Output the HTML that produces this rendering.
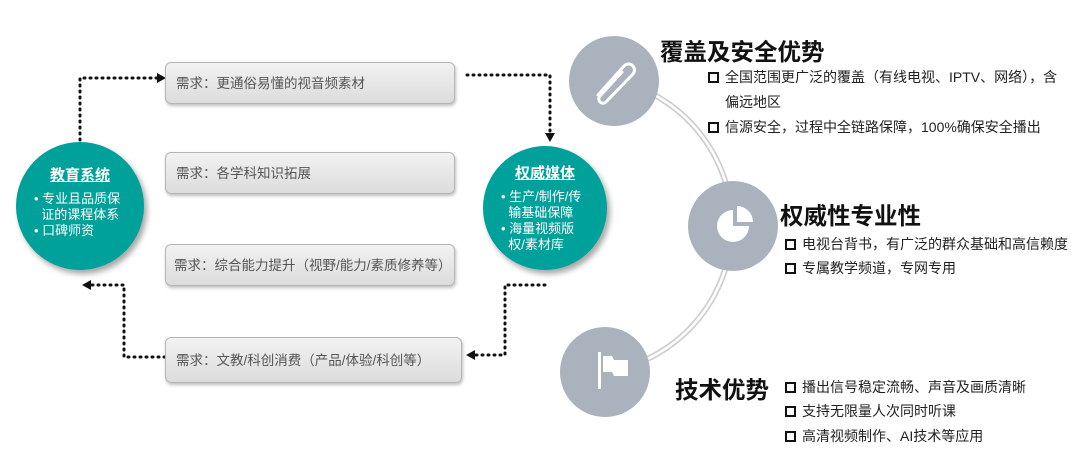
<!DOCTYPE html>
<html><head><meta charset="utf-8"><style>
body{margin:0;width:1080px;height:463px;background:#fff;position:relative;overflow:hidden;font-family:"Liberation Sans","Noto Sans CJK SC",sans-serif;}
.a{position:absolute;}
.box{position:absolute;left:165px;width:290px;height:42px;border:1px solid #b5b5b5;border-radius:6px;background:linear-gradient(#f2f2f2,#dcdcdc);box-shadow:1px 2px 3px rgba(0,0,0,.25);font-size:13.5px;color:#555;line-height:42px;padding-left:10px;box-sizing:border-box;}
.tc{position:absolute;border-radius:50%;background:#00a19a;color:#fff;box-shadow:3px 4px 6px rgba(0,0,0,.35);text-align:left;box-sizing:border-box;}
.tc b{display:block;text-align:center;font-size:15px;text-decoration:underline;margin-bottom:6px;}
.tc div{font-size:13px;line-height:16px;}
.h{position:absolute;font-weight:bold;font-size:23.5px;color:#111;}
.li{position:absolute;font-size:14px;color:#222;white-space:nowrap;}
.li:before{content:"";display:inline-block;width:7px;height:7px;border:2px solid #111;margin-right:6px;vertical-align:-1px;}
.nb:before{display:none}
</style></head><body>
<svg class="a" style="left:0;top:0" width="1080" height="463">
<g fill="none" stroke="#111" stroke-width="3" stroke-dasharray="1 5" stroke-linecap="round">
<path d="M80 140 V78 H160"/>
<path d="M467 75 H550 V135"/>
<path d="M545 285 H505 V355 H472"/>
<path d="M165 357 H124 V285 H92"/>
</g>
<g fill="#111">
<polygon points="157,73 166,78 157,83"/>
<polygon points="545,133 555,133 550,142"/>
<polygon points="475,350 475,360 466,355"/>
<polygon points="91,280 91,290 82,285"/>
</g>
<path d="M614 80 A149 149 0 0 1 732 226 A149 149 0 0 1 605 372" fill="none" stroke="#cfcfcf" stroke-width="6"/>
<path d="M614 80 A149 149 0 0 1 732 226 A149 149 0 0 1 605 372" fill="none" stroke="#fff" stroke-width="2.5"/>
<circle cx="614" cy="81" r="45" fill="#aab3bd"/>
<circle cx="733" cy="226" r="45" fill="#aab3bd"/>
<circle cx="605" cy="372" r="45" fill="#aab3bd"/>
<g fill="none" stroke="#fff" stroke-width="3" stroke-linecap="round">
<path d="M598 95 L624 66 A6 6 0 0 1 633 74 L606 102 A4 4 0 0 1 600 96 L622 72"/>
</g>
<path d="M733 210 A16 16 0 1 0 749 226 H733 Z" fill="#fff"/>
<path d="M737 206 A16 16 0 0 1 753 222 H737 Z" fill="#fff"/>
<rect x="598" y="352" width="3" height="37" fill="#fff"/>
<path d="M603 356 H612 L614 360 H628 V376 H614 L612 372 H603 Z" fill="#fff"/>
</svg>
<div class="box" style="top:62px">需求：更通俗易懂的视音频素材</div>
<div class="box" style="top:152px">需求：各学科知识拓展</div>
<div class="box" style="top:244px;padding-left:8px">需求：综合能力提升（视野/能力/素质修养等）</div>
<div class="box" style="top:337px;width:297px;height:46px;line-height:46px">需求：文教/科创消费（产品/体验/科创等）</div>
<div class="tc" style="left:16px;top:142px;width:128px;height:128px;padding:22px 0 0 18px"><b style="margin-left:-18px">教育系统</b><div>• 专业且品质保<br>&nbsp;&nbsp;证的课程体系<br>• 口碑师资</div></div>
<div class="tc" style="left:483px;top:146px;width:124px;height:124px;padding:16px 0 0 18px"><b style="margin-left:-18px">权威媒体</b><div>• 生产/制作/传<br>&nbsp;&nbsp;输基础保障<br>• 海量视频版<br>&nbsp;&nbsp;权/素材库</div></div>
<div class="h" style="left:660px;top:33px">覆盖及安全优势</div>
<div class="li" style="left:708px;top:67px">全国范围更广泛的覆盖（有线电视、IPTV、网络），含</div>
<div class="li nb" style="left:725px;top:92px;">偏远地区</div>
<div class="li" style="left:708px;top:117px">信源安全，过程中全链路保障，100%确保安全播出</div>
<div class="h" style="left:780px;top:197px">权威性专业性</div>
<div class="li" style="left:785px;top:234px">电视台背书，有广泛的群众基础和高信赖度</div>
<div class="li" style="left:785px;top:258px">专属教学频道，专网专用</div>
<div class="h" style="left:675px;top:371px">技术优势</div>
<div class="li" style="left:785px;top:377px">播出信号稳定流畅、声音及画质清晰</div>
<div class="li" style="left:785px;top:401px">支持无限量人次同时听课</div>
<div class="li" style="left:785px;top:426px">高清视频制作、AI技术等应用</div>
</body></html>
